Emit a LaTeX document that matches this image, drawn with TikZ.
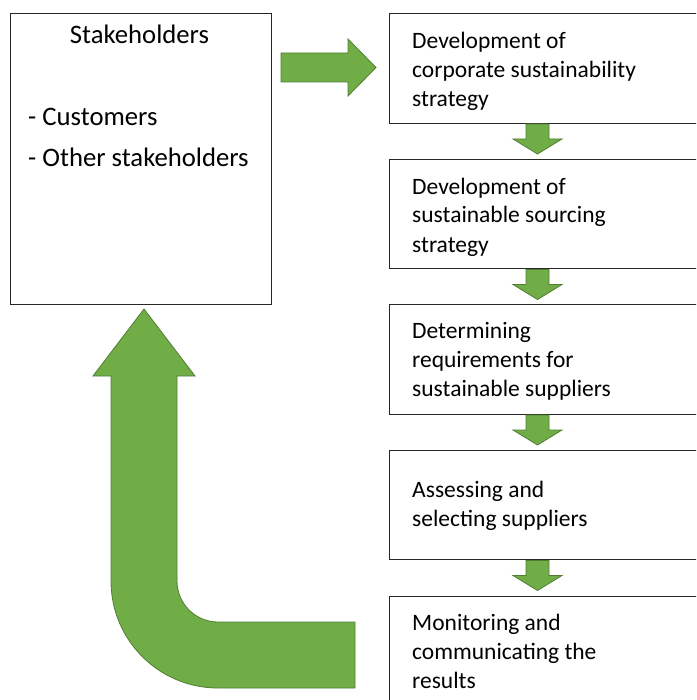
\documentclass[tikz,border=0pt]{standalone}
\usepackage{fontspec}
\setmainfont{Carlito}
\begin{document}
\begin{tikzpicture}[x=1pt,y=-1pt,
  box/.style={draw=black!85,line width=1.2pt,fill=white,rectangle,inner sep=0pt,anchor=north west},
  label/.style={inner sep=0pt,anchor=base west,align=left,font=\fontsize{23.5pt}{29pt}\selectfont},
  biglabel/.style={inner sep=0pt,align=left,font=\fontsize{26.7pt}{32pt}\selectfont},
  blockarrow/.style={fill=arrowgreen,draw=arrowedge,line width=0.8pt,line join=miter}]
\definecolor{arrowgreen}{HTML}{70AD47}
\definecolor{arrowedge}{HTML}{507E32}
\useasboundingbox (0,0) rectangle (696,700);
\clip (0,0) rectangle (696,700);

% stakeholder box
\node[box,minimum width=261pt,minimum height=291pt] (stake) at (10,13) {};
\node[biglabel,anchor=base] (stakett) at (139.5,44) {Stakeholders};
\node[biglabel,anchor=base west] (stakelist) at (28,167) {- Customers\\[9pt]- Other stakeholders};

% process steps (anchored at the baseline of the last line)
\node[box,minimum width=320pt,minimum height=110pt] (s1) at (389,13) {};
\node[box,minimum width=320pt,minimum height=109pt] (s2) at (389,159) {};
\node[box,minimum width=320pt,minimum height=110pt] (s3) at (389,304) {};
\node[box,minimum width=320pt,minimum height=109pt] (s4) at (389,450) {};
\node[box,minimum width=320pt,minimum height=130pt] (s5) at (389,596) {};

\node[label] (t1) at (412,107) {Development of\\corporate sustainability\\strategy};
\node[label] (t2) at (412,252) {Development of\\sustainable sourcing\\strategy};
\node[label] (t3) at (412,396) {Determining\\requirements for\\sustainable suppliers};
\node[label] (t4) at (412,526) {Assessing and\\selecting suppliers};
\node[label] (t5) at (412,688) {Monitoring and\\communicating the\\results};

% arrow from stakeholders to the first step
\draw[blockarrow] (281,53) -- (348,53) -- (348,39) -- (376,67.5) -- (348,96) -- (348,82) -- (281,82) -- cycle;

% arrows between steps
\foreach \b in {123,268.5,414,559.5}{
  \draw[blockarrow] (526,\b+1) -- (549,\b+1) -- (549,\b+16) -- (562,\b+16)
    -- (537.5,\b+31) -- (513,\b+16) -- (526,\b+16) -- cycle;
}

% feedback arrow back to the stakeholders
\draw[blockarrow] (144,309) -- (195,376) -- (177,376) -- (177,581)
  .. controls (177,603.6) and (195.4,622) .. (218,622) -- (355,622) -- (355,688) -- (218,688)
  .. controls (158.9,688) and (111,640.1) .. (111,581) -- (111,376) -- (93,376) -- cycle;
\end{tikzpicture}
\end{document}
